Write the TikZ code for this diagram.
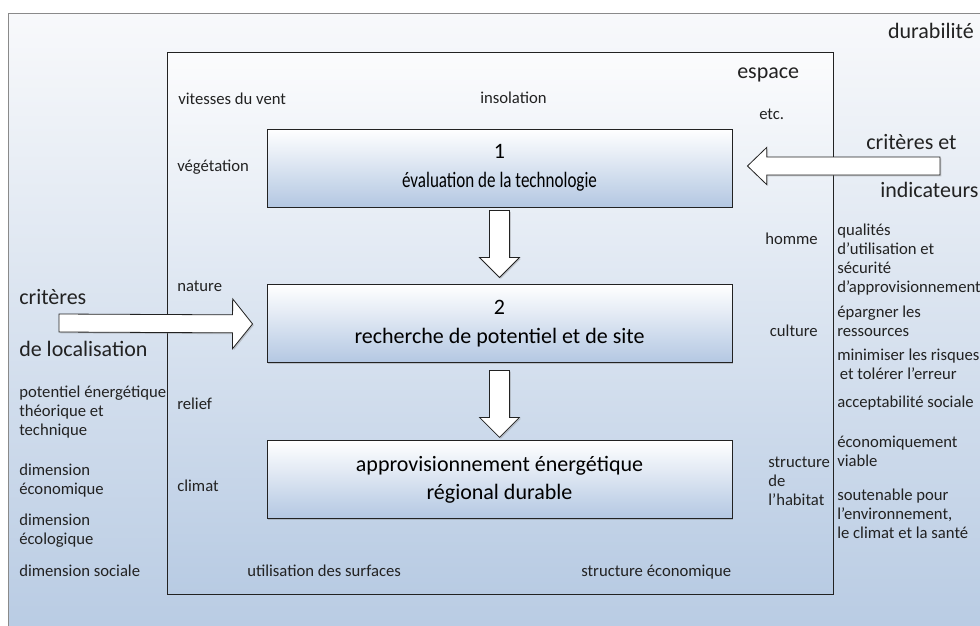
\documentclass[tikz,border=0pt]{standalone}
\usepackage{fontspec}
\setmainfont{Carlito}
\usepackage{graphicx}
\usetikzlibrary{positioning, calc, shadows}
\definecolor{mPaleTop}{HTML}{F8F9FB}
\definecolor{mPaleBlue}{HTML}{B8CBE3}
\definecolor{mBoxBlue}{HTML}{B3C7E2}
\definecolor{mFrame}{HTML}{8A8A8A}
\definecolor{mInk}{HTML}{222222}

\begin{document}
\begin{tikzpicture}[
  x=0.75pt, y=-0.75pt,
  node distance=57.75pt,
  lifted/.style={
    drop shadow={shadow xshift=1pt, shadow yshift=-1pt, opacity=0.35}
  },
  stage/.style={
    draw=mInk,
    line width=0.7pt,
    top color=white,
    bottom color=mBoxBlue,
    minimum width=348.75pt,
    minimum height=58.5pt,
    align=center,
    font=\fontsize{16.5}{21.5}\selectfont,
    lifted
  },
  fatarrow/.style n args={3}{
    draw=mInk,
    line width=0.6pt,
    fill=white,
    lifted,
    to path={let \p1=(\tikztostart), \p2=(\tikztotarget),
      \n1={atan2(\y2-\y1,\x2-\x1)} in
      ($(\p1)+(\n1+90:#1)$)
      -- ($(\p2)+(\n1+180:#3)+(\n1+90:#1)$)
      -- ($(\p2)+(\n1+180:#3)+(\n1+90:#2)$)
      -- (\p2)
      -- ($(\p2)+(\n1+180:#3)+(\n1-90:#2)$)
      -- ($(\p2)+(\n1+180:#3)+(\n1-90:#1)$)
      -- ($(\p1)+(\n1-90:#1)$) -- cycle}
  },
  lbl/.style={
    inner sep=0pt,
    anchor=west,
    align=left,
    text=mInk,
    font=\fontsize{12.5}{14.25}\selectfont
  },
  biglbl/.style={lbl, font=\fontsize{16.5}{19}\selectfont}
]

\useasboundingbox (0,0) rectangle (980,625);

\draw[draw=mFrame, top color=mPaleTop, bottom color=mPaleBlue]
  (8,13) rectangle (1000,640);
\draw[draw=mInk, line width=0.6pt, top color=mPaleTop!50!white,
  bottom color=mPaleBlue, lifted] (167,52) rectangle (833,594);

\node[stage] (tech) at (499.5,168)
  {1\\\scalebox{0.775}[1]{évaluation de la technologie}};
\node[stage, below=of tech] (site)
  {2\\recherche de potentiel et de site};
\node[stage, below=of site] (supply)
  {approvisionnement énergétique\\régional durable};

\coordinate (locin) at (59,323);
\coordinate (indin) at (940,166);

\draw[fatarrow={7.5pt}{15pt}{15pt}] ($(tech.south)+(0,3)$) to ($(site.north)+(0,-7)$);
\draw[fatarrow={7.5pt}{15pt}{15pt}] ($(site.south)+(0,7)$) to ($(supply.north)+(0,-3)$);
\draw[fatarrow={6.75pt}{18.75pt}{15pt}] (locin) to ($(site.west)+(-14,0)$);
\draw[fatarrow={6.75pt}{14pt}{14.5pt}] (indin) to ($(tech.east)+(15,-2)$);

\node[biglbl, anchor=east] (durab) at (974,31) {durabilité};
\node[biglbl] (espace) at (737,75) {espace};
\node[biglbl] (critin) at (866,142) {critères et};
\node[biglbl] (indic) at (880,190) {indicateurs};
\node[biglbl] (critloc) at (19,297) {critères};
\node[biglbl] (deloc) at (19,349) {de localisation};

\node[lbl] (vent) at (178,99) {vitesses du vent};
\node[lbl] (insol) at (480,98) {insolation};
\node[lbl] (etc) at (759,114) {etc.};
\node[lbl] (veget) at (177,167) {végétation};
\node[lbl] (nature) at (177,286) {nature};
\node[lbl] (relief) at (177,404) {relief};
\node[lbl] (climat) at (177,486) {climat};
\node[lbl] (surf) at (247,571) {utilisation des surfaces};
\node[lbl] (strueco) at (581,572) {structure économique};
\node[lbl, anchor=east] (homme) at (818,239) {homme};
\node[lbl, anchor=east] (culture) at (818,331) {culture};
\node[lbl] (habitat) at (768,481) {structure\\de\\l'habitat};

\node[lbl] (pot) at (19,412) {potentiel énergétique\\théorique et\\technique};
\node[lbl] (dimeco) at (19,481) {dimension\\économique};
\node[lbl] (dimeco2) at (19,531) {dimension\\écologique};
\node[lbl] (dimsoc) at (19,571) {dimension sociale};

\node[lbl] (qual) at (837,260) {qualités\\d'utilisation et\\sécurité\\d'approvisionnement};
\node[lbl] (epar) at (837,321) {épargner les\\ressources};
\node[lbl] (risk) at (837,364) {minimiser les risques\\\hspace*{2pt}et tolérer l'erreur};
\node[lbl] (accept) at (837,403) {acceptabilité sociale};
\node[lbl] (viable) at (837,451) {économiquement\\viable};
\node[lbl] (soutien) at (837,514) {soutenable pour\\l'environnement,\\le climat et la santé};

\end{tikzpicture}
\end{document}
